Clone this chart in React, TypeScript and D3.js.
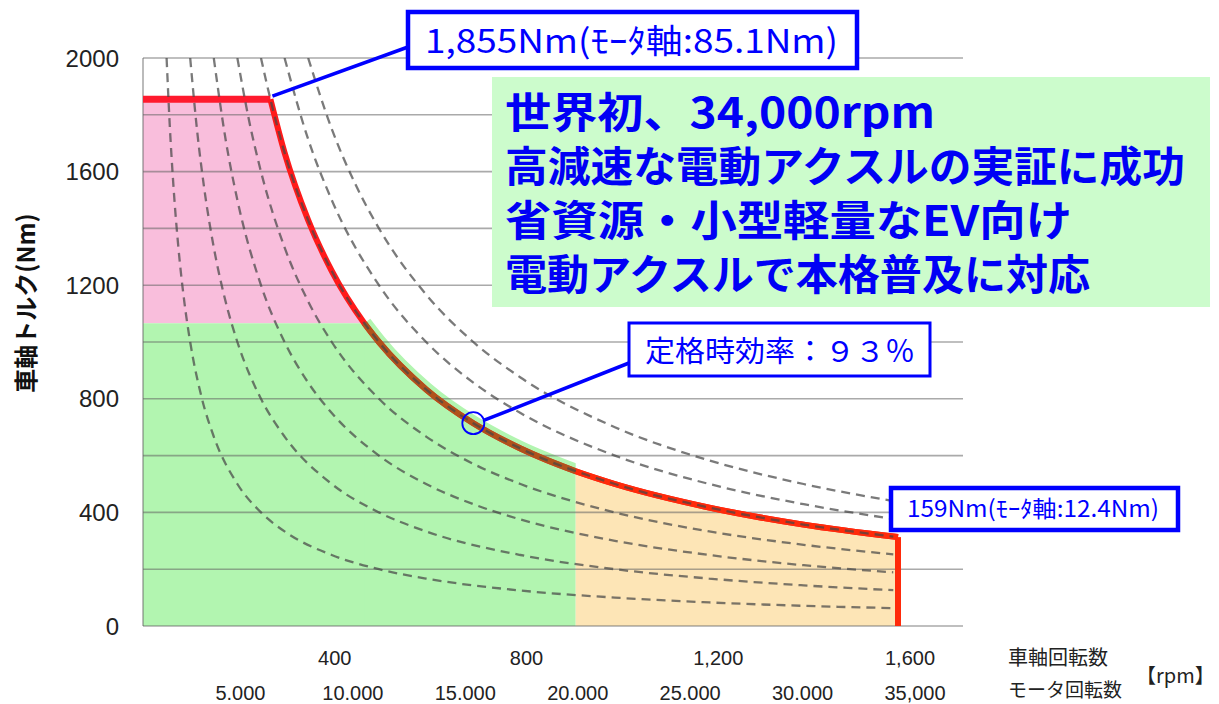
import React from "react";
import * as d3 from "d3";

// ---------- data (axle rpm, axle torque Nm) ----------
const yTicks = [0, 400, 800, 1200, 1600, 2000];
const yGrid = [0, 200, 400, 600, 800, 1000, 1200, 1400, 1600, 1800, 2000];
const axleTickValues = [400, 800, 1200, 1600];
const axleTickLabels = ["400", "800", "1,200", "1,600"];
const motorTickValues = [5000, 10000, 15000, 20000, 25000, 30000, 35000];
const motorTickLabels = ["5.000", "10.000", "15.000", "20.000", "25.000", "30.000", "35,000"];

// maximum torque envelope (red line)
const maxTorqueLine: [number, number][] = [
  [0, 1855], [270, 1855], [300, 1667], [350, 1429], [400, 1250], [469, 1066],
  [500, 1000], [600, 833], [700, 714], [800, 625], [917, 545], [1000, 500],
  [1200, 417], [1400, 357], [1600, 313],
];
const maxSpeed = 1600;
const pinkLowerTorque = 1066;
const pinkEndSpeed = 469;
const greenEndSpeed = 917;
const ratedPoint: [number, number] = [700, 714];

// constant-output dashed curves
const dash100: [number, number][] = [[50, 2000], [57, 1754], [65, 1538], [75, 1333], [88, 1136], [100, 1000], [125, 800], [150, 667], [200, 500], [250, 400], [300, 333], [400, 250], [500, 200], [600, 167], [800, 125], [1000, 100], [1200, 83], [1400, 71], [1590, 63]];
const dash200: [number, number][] = [[100, 2000], [115, 1739], [130, 1538], [150, 1333], [175, 1143], [200, 1000], [250, 800], [300, 667], [400, 500], [500, 400], [600, 333], [800, 250], [1000, 200], [1200, 167], [1400, 143], [1590, 126]];
const dash300: [number, number][] = [[150, 2000], [175, 1714], [200, 1500], [250, 1200], [300, 1000], [350, 857], [400, 750], [500, 600], [600, 500], [700, 429], [800, 375], [1000, 300], [1200, 250], [1400, 214], [1590, 189]];
const dash400: [number, number][] = [[200, 2000], [225, 1778], [250, 1600], [300, 1333], [350, 1143], [400, 1000], [500, 800], [600, 667], [700, 571], [800, 500], [1000, 400], [1200, 333], [1400, 286], [1590, 252]];
const dash500: [number, number][] = [[250, 2000], [270, 1855], [300, 1667], [350, 1429], [400, 1250], [500, 1000], [600, 833], [700, 714], [800, 625], [1000, 500], [1200, 417], [1400, 357], [1590, 315]];
const dash600: [number, number][] = [[300, 2000], [350, 1714], [400, 1500], [500, 1200], [600, 1000], [700, 857], [800, 750], [1000, 600], [1200, 500], [1400, 429], [1590, 377]];
const dash700: [number, number][] = [[350, 2000], [400, 1750], [450, 1556], [500, 1400], [600, 1167], [700, 1000], [800, 875], [1000, 700], [1200, 583], [1400, 500], [1590, 440]];
const dashedCurves = [dash100, dash200, dash300, dash400, dash500, dash600, dash700];

const headline = [
  "世界初、34,000rpm",
  "高減速な電動アクスルの実証に成功",
  "省資源・小型軽量なEV向け",
  "電動アクスルで本格普及に対応",
];
const headlineLengths = [430, 680, 567, 585];

// ---------- layout ----------
const W = 1219;
const H = 704;
const plotLeft = 143;
const plotRight = 963;
const plotTop = 58;
const plotBottom = 626;

const x = d3.scaleLinear().domain([0, maxSpeed]).range([plotLeft, 898]);
const y = d3.scaleLinear().domain([0, 2000]).range([plotBottom, plotTop]);
const axleLabelX = d3.scaleLinear().domain([0, 1600]).range([plotLeft, 910]);
const motorLabelX = d3.scaleLinear().domain([0, 35000]).range([128, 915]);

const JP = "'Noto Sans CJK JP', 'Noto Sans', sans-serif";
const LAT = "'Liberation Sans', Arial, sans-serif";
const GREEN = "#b2f5b0";

export default function App() {
  const line = d3
    .line<[number, number]>()
    .x((d) => x(d[0]))
    .y((d) => y(d[1]))
    .curve(d3.curveMonotoneX);
  const linearLine = d3
    .line<[number, number]>()
    .x((d) => x(d[0]))
    .y((d) => y(d[1]));

  const curvePart = (lo: number, hi: number) =>
    maxTorqueLine.filter((d) => d[0] >= lo && d[0] <= hi && d[0] >= 270);

  const areaUnder = (y0: number) =>
    d3
      .area<[number, number]>()
      .x((d) => x(d[0]))
      .y0(y(y0))
      .y1((d) => y(d[1]))
      .curve(d3.curveMonotoneX);

  const pinkPts = maxTorqueLine.filter((d) => d[0] <= pinkEndSpeed);
  const greenCurvePts = curvePart(pinkEndSpeed, greenEndSpeed);
  const orangePts = curvePart(greenEndSpeed, maxSpeed);

  const redPath = line(maxTorqueLine.filter((d) => d[0] >= 270)) || "";
  const flatPath = linearLine(maxTorqueLine.filter((d) => d[0] <= 270)) || "";
  const endVertical =
    linearLine([maxTorqueLine[maxTorqueLine.length - 1], [maxSpeed, 0]]) || "";

  return (
    <svg width={W} height={H} style={{ position: "absolute", left: 0, top: 0, background: "#fff" }}>
      <defs>
        <clipPath id="plotClip">
          <rect x={plotLeft} y={plotTop} width={plotRight - plotLeft} height={plotBottom - plotTop} />
        </clipPath>
        <clipPath id="greenClip">
          <rect x={plotLeft} y={plotTop} width={x(greenEndSpeed) - plotLeft} height={plotBottom - plotTop} />
        </clipPath>
      </defs>

      {/* regions */}
      <path d={areaUnder(pinkLowerTorque)(pinkPts) || ""} fill="#f9bedc" />
      <g clipPath="url(#greenClip)">
        <path d={line(greenCurvePts) || ""} fill="none" stroke={GREEN} strokeWidth={15} />
      </g>
      <rect
        x={x(0)}
        y={y(pinkLowerTorque)}
        width={x(pinkEndSpeed) - x(0) + 2}
        height={y(0) - y(pinkLowerTorque)}
        fill={GREEN}
      />
      <path d={areaUnder(0)(greenCurvePts) || ""} fill={GREEN} />
      <path d={areaUnder(0)(orangePts) || ""} fill="#fde5b6" />

      {/* grid */}
      {yGrid.map((v) => (
        <line
          key={v}
          x1={plotLeft}
          x2={plotRight}
          y1={y(v)}
          y2={y(v)}
          stroke="rgba(100,100,100,0.55)"
          strokeWidth={1.6}
        />
      ))}
      <line x1={plotLeft} x2={plotLeft} y1={plotTop} y2={plotBottom} stroke="rgba(100,100,100,0.55)" strokeWidth={1.6} />

      {/* max torque line */}
      <path d={flatPath} fill="none" stroke="#ff1a2e" strokeWidth={7} />
      <path d={redPath} fill="none" stroke="#ff1a1a" strokeWidth={6} strokeLinejoin="round" />
      <path d={line(greenCurvePts) || ""} fill="none" stroke="#b0521c" strokeWidth={6} />
      <path d={line(orangePts) || ""} fill="none" stroke="#ff2a0a" strokeWidth={6} strokeLinejoin="round" />
      <path d={endVertical} fill="none" stroke="#ff2a0a" strokeWidth={6} />

      {/* dashed constant-output curves */}
      <g clipPath="url(#plotClip)">
        {dashedCurves.map((c, i) => (
          <path
            key={i}
            d={line(c) || ""}
            fill="none"
            stroke="rgba(70,70,70,0.72)"
            strokeWidth={2.3}
            strokeDasharray="9 6"
          />
        ))}
      </g>

      {/* y axis */}
      {yTicks.map((v) => (
        <text
          key={v}
          x={119}
          y={y(v)}
          textAnchor="end"
          dominantBaseline="central"
          fontFamily={LAT}
          fontSize={24}
          fill="#222"
        >
          {v}
        </text>
      ))}
      <text
        transform={`translate(24, ${303}) rotate(-90)`}
        textAnchor="middle"
        dominantBaseline="central"
        fontFamily={JP}
        fontWeight={700}
        fontSize={24}
        fill="#111"
      >
        車軸トルク(Nm)
      </text>

      {/* x axis labels */}
      {axleTickValues.map((v, i) => (
        <text key={v} x={axleLabelX(v)} y={665} textAnchor="middle" fontFamily={LAT} fontSize={20} fill="#222">
          {axleTickLabels[i]}
        </text>
      ))}
      {motorTickValues.map((v, i) => (
        <text key={v} x={motorLabelX(v)} y={700} textAnchor="middle" fontFamily={LAT} fontSize={20} fill="#222">
          {motorTickLabels[i]}
        </text>
      ))}
      <text x={1008} y={665} fontFamily={JP} fontSize={20} fill="#222">車軸回転数</text>
      <text x={1008} y={697} fontFamily={JP} fontSize={19} fill="#222">モータ回転数</text>
      <text x={1136} y={683} fontFamily={JP} fontSize={20} fill="#222">【rpm】</text>

      {/* headline box */}
      <rect x={492} y={77} width={718} height={230} fill="#ccfccc" />
      {headline.map((t, i) => (
        <text
          key={i}
          x={505}
          y={128 + i * 54}
          fontFamily={JP}
          fontWeight={700}
          fontSize={42}
          fill="#0000f5"
          textLength={headlineLengths[i]}
          lengthAdjust="spacingAndGlyphs"
        >
          {t}
        </text>
      ))}

      {/* annotation: max torque */}
      <line x1={x(270) + 2} y1={y(1855) - 3} x2={408} y2={47} stroke="#0000ff" strokeWidth={3.5} />
      <rect x={408} y={12} width={449} height={56} fill="#fff" stroke="#0000ff" strokeWidth={4.5} />
      <text x={425} y={53} fontFamily={JP} fontSize={33} fill="#0000ff" textLength={413} lengthAdjust="spacingAndGlyphs">
        1,855Nm(ﾓｰﾀ軸:85.1Nm)
      </text>

      {/* annotation: rated efficiency */}
      <circle cx={x(ratedPoint[0])} cy={y(ratedPoint[1])} r={11} fill="none" stroke="#0000ff" strokeWidth={1.8} />
      <line x1={x(ratedPoint[0]) + 11} y1={y(ratedPoint[1]) - 3} x2={629} y2={363} stroke="#0000ff" strokeWidth={3.5} />
      <rect x={629} y={323} width={301} height={53} fill="#fff" stroke="#0000ff" strokeWidth={3} />
      <text x={645} y={362} fontFamily={JP} fontSize={29} fill="#0000ff" textLength={270} lengthAdjust="spacingAndGlyphs">
        定格時効率：９３％
      </text>

      {/* annotation: max speed torque */}
      <rect x={891} y={488} width={287} height={42} fill="#fff" stroke="#0000ff" strokeWidth={4.5} />
      <text x={907} y={517} fontFamily={JP} fontSize={23} fill="#0000ff" textLength={252} lengthAdjust="spacingAndGlyphs">
        159Nm(ﾓｰﾀ軸:12.4Nm)
      </text>
    </svg>
  );
}
